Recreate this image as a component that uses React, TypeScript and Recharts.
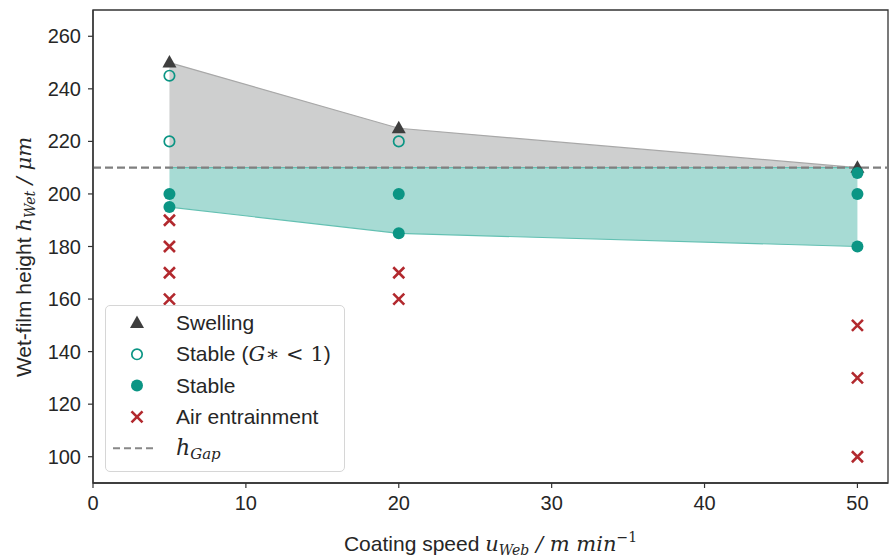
import {
  Area,
  ComposedChart,
  Label,
  ReferenceArea,
  ReferenceLine,
  Scatter,
  XAxis,
  YAxis
} from "recharts";

// coating speeds (m/min) where the process window was measured
const speeds = [5, 20, 50];
// upper edge of the swelling region and lower edge of the stable region
const swellingEdge = [250, 225, 210];
const stableEdge = [195, 185, 180];
const gapHeight = 210;

const swelling = [
  { x: 5, y: 250 },
  { x: 20, y: 225 },
  { x: 50, y: 210 }
];
const stableLowG = [
  { x: 5, y: 245 },
  { x: 5, y: 220 },
  { x: 20, y: 220 }
];
const stable = [
  { x: 5, y: 200 },
  { x: 5, y: 195 },
  { x: 20, y: 200 },
  { x: 20, y: 185 },
  { x: 50, y: 208 },
  { x: 50, y: 200 },
  { x: 50, y: 180 }
];
const airEntrainment = [
  { x: 5, y: 190 },
  { x: 5, y: 180 },
  { x: 5, y: 170 },
  { x: 5, y: 160 },
  { x: 20, y: 170 },
  { x: 20, y: 160 },
  { x: 50, y: 150 },
  { x: 50, y: 130 },
  { x: 50, y: 100 }
];

const xTicks = [0, 10, 20, 30, 40, 50];
const yTicks = [100, 120, 140, 160, 180, 200, 220, 240, 260];

const regions = speeds.map((x, i) => ({
  x,
  swell: [gapHeight, swellingEdge[i]],
  stable: [stableEdge[i], gapHeight]
}));

const INK = "#262626";
const TEAL = "#0b9584";
const RED = "#b2292e";
const DARK = "#3e3e3e";
const SERIF = '"DejaVu Serif", "Liberation Serif", serif';

const Triangle = ({ cx, cy }: any) => (
  <polygon
    points={`${cx},${cy - 7.5} ${cx - 7},${cy + 5} ${cx + 7},${cy + 5}`}
    fill={DARK}
  />
);
const OpenDot = ({ cx, cy }: any) => (
  <circle cx={cx} cy={cy} r={5.2} fill="none" stroke={TEAL} strokeWidth={1.7} />
);
const Dot = ({ cx, cy }: any) => <circle cx={cx} cy={cy} r={6} fill={TEAL} />;
const Cross = ({ cx, cy }: any) => (
  <path
    d={`M${cx - 5.5},${cy - 5.5}L${cx + 5.5},${cy + 5.5}M${cx - 5.5},${cy + 5.5}L${cx + 5.5},${cy - 5.5}`}
    stroke={RED}
    strokeWidth={2.6}
  />
);

const XTitle = ({ viewBox }: any) => {
  const cx = viewBox.x + viewBox.width / 2;
  return (
    <text x={cx} y={viewBox.y + 68} textAnchor="middle" fontSize={21} fill={INK}>
      Coating speed{" "}
      <tspan fontFamily={SERIF} fontStyle="italic">u</tspan>
      <tspan fontFamily={SERIF} fontStyle="italic" fontSize={14} dy={4}>Web</tspan>
      <tspan fontFamily={SERIF} fontStyle="italic" dy={-4}> / m min</tspan>
      <tspan fontFamily={SERIF} fontSize={14} dy={-9}>−1</tspan>
    </text>
  );
};

const YTitle = () => (
  <text
    transform="translate(31,257) rotate(-90)"
    textAnchor="middle"
    fontSize={21}
    fill={INK}
  >
    Wet-film height{" "}
    <tspan fontFamily={SERIF} fontStyle="italic">h</tspan>
    <tspan fontFamily={SERIF} fontStyle="italic" fontSize={14} dy={4}>Wet</tspan>
    <tspan fontFamily={SERIF} fontStyle="italic" dy={-4}> / μm</tspan>
  </text>
);

const legendRows = ["Swelling", "Stable", "Stable", "Air entrainment", "gap"];

function LegendBox() {
  const rowY = (i: number) => 18 + i * 31.3;
  const mx = 32;
  const tx = 71;
  return (
    <div
      style={{
        position: "absolute",
        left: 105,
        top: 305,
        width: 240,
        height: 167,
        border: "1px solid #d6d6d6",
        borderRadius: 5,
        background: "rgba(255,255,255,0.85)",
        boxSizing: "border-box"
      }}
    >
      <svg width={240} height={167} style={{ position: "absolute", left: -1, top: -1 }}>
        <Triangle cx={mx} cy={rowY(0)} />
        <text x={tx} y={rowY(0) + 7} fontSize={21} fill={INK}>{legendRows[0]}</text>
        <OpenDot cx={mx} cy={rowY(1)} />
        <text x={tx} y={rowY(1) + 7} fontSize={21} fill={INK}>
          Stable (<tspan fontFamily={SERIF} fontStyle="italic">G</tspan>
          <tspan fontFamily={SERIF}>∗ &lt; 1</tspan>)
        </text>
        <Dot cx={mx} cy={rowY(2)} />
        <text x={tx} y={rowY(2) + 7} fontSize={21} fill={INK}>{legendRows[2]}</text>
        <Cross cx={mx} cy={rowY(3)} />
        <text x={tx} y={rowY(3) + 7} fontSize={21} fill={INK}>{legendRows[3]}</text>
        <line
          x1={mx - 24}
          x2={mx + 17}
          y1={rowY(4)}
          y2={rowY(4)}
          stroke="#888"
          strokeWidth={2}
          strokeDasharray="7 4"
        />
        <text x={tx} y={rowY(4) + 7} fontSize={22} fill={INK} fontFamily={SERIF} fontStyle="italic">
          h<tspan fontSize={15} dy={4}>Gap</tspan>
        </text>
      </svg>
    </div>
  );
}

export default function App() {
  return (
    <div
      style={{
        position: "absolute",
        left: 0,
        top: 0,
        width: 891,
        height: 557,
        background: "#fff",
        fontFamily: '"Liberation Sans", Arial, sans-serif'
      }}
    >
      <ComposedChart
        width={891}
        height={557}
        data={regions}
        margin={{ top: 10, right: 3, bottom: 0, left: 0 }}
      >
        <XAxis
          type="number"
          dataKey="x"
          domain={[0, 52]}
          ticks={xTicks}
          allowDataOverflow
          height={74}
          tickSize={5}
          tickMargin={8}
          tick={{ fontSize: 20, fill: INK }}
          axisLine={{ stroke: "#333", strokeWidth: 1.3 }}
          tickLine={{ stroke: "#333", strokeWidth: 1.2 }}
        >
          <Label content={<XTitle />} />
        </XAxis>
        <YAxis
          type="number"
          domain={[90, 270]}
          ticks={yTicks}
          allowDataOverflow
          width={93}
          tickSize={5}
          tickMargin={7}
          tick={{ fontSize: 20, fill: INK }}
          axisLine={{ stroke: "#333", strokeWidth: 1.3 }}
          tickLine={{ stroke: "#333", strokeWidth: 1.2 }}
        >
          <Label content={<YTitle />} />
        </YAxis>
        <Area
          type="linear"
          dataKey="swell"
          fill="#cecfcf"
          fillOpacity={1}
          stroke="#a8a8a8"
          strokeWidth={1.2}
          isAnimationActive={false}
        />
        <Area
          type="linear"
          dataKey="stable"
          fill="#a7dbd4"
          fillOpacity={1}
          stroke="#63c0b2"
          strokeWidth={1.2}
          isAnimationActive={false}
        />
        <ReferenceLine
          y={gapHeight}
          stroke="#7f7f7f"
          strokeWidth={2.2}
          strokeDasharray="8 4"
        />
        <ReferenceArea
          x1={0}
          x2={52}
          y1={90}
          y2={270}
          fill="none"
          stroke="#333"
          strokeWidth={1.3}
          ifOverflow="visible"
        />
        <Scatter data={swelling} dataKey="y" shape={<Triangle />} isAnimationActive={false} />
        <Scatter data={stableLowG} dataKey="y" shape={<OpenDot />} isAnimationActive={false} />
        <Scatter data={stable} dataKey="y" shape={<Dot />} isAnimationActive={false} />
        <Scatter data={airEntrainment} dataKey="y" shape={<Cross />} isAnimationActive={false} />
      </ComposedChart>
      <LegendBox />
    </div>
  );
}
